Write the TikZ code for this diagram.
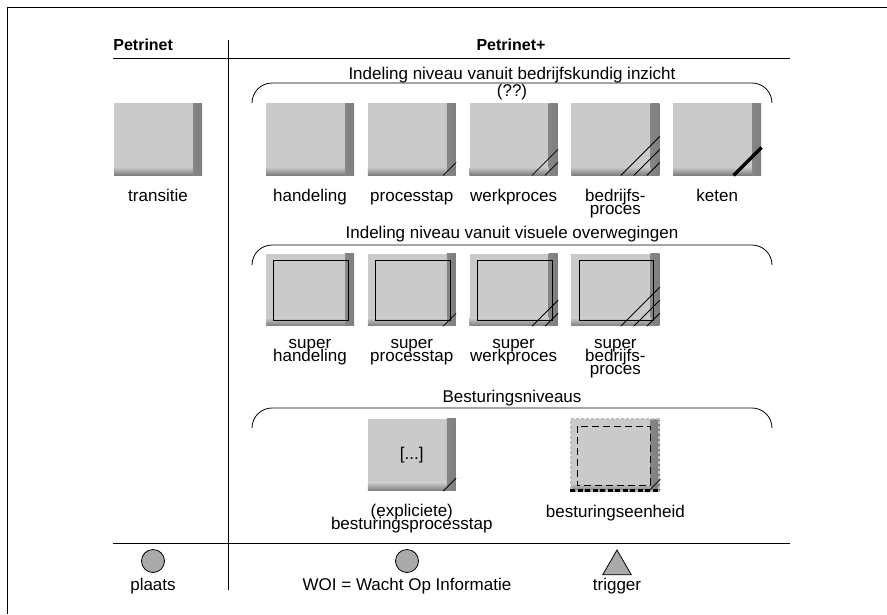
\documentclass[tikz,border=0pt]{standalone}
\usepackage{fontspec}
\setmainfont{Liberation Sans}
\usepackage{tikz}
\usepackage{xcolor}
\usetikzlibrary{positioning,shapes.geometric}
\definecolor{tfill}{HTML}{CACACA}
\definecolor{tshade}{HTML}{7E7E7E}
\definecolor{pfill}{HTML}{AAAAAA}
\AtBeginDocument{\lineskiplimit=-20pt}

\begin{document}
\begin{tikzpicture}[x=1pt,y=-1pt,line width=0.8pt,
  font=\fontsize{17}{13}\selectfont,
  trans/.style={rectangle,minimum width=88pt,minimum height=72pt,inner sep=0pt,fill=tfill,
    path picture={
      \shade[left color=tfill,right color=tshade]
        ([xshift=-9pt]path picture bounding box.north east) rectangle (path picture bounding box.south east);
      \shade[top color=tfill,bottom color=tshade]
        ([yshift=8pt]path picture bounding box.south west) rectangle ([xshift=-9pt]path picture bounding box.south east);}},
  lbl/.style={anchor=base,align=center,inner sep=0pt},
  hdr/.style={anchor=base,inner sep=0pt,font=\fontsize{16}{13}\selectfont\bfseries},
  place/.style={circle,draw,fill=pfill,minimum size=23pt,inner sep=0pt},
  trig/.style={regular polygon,regular polygon sides=3,draw,fill=pfill,minimum size=33pt,inner sep=0pt},
  brace/.style={rounded corners=20pt}]
\useasboundingbox (0,0) rectangle (887,614);

% frame and table rules
\draw (7,614) -- (7,7) -- (887,7);
\draw (113,58) -- (790,58);
\draw (113,543) -- (790,543);
\draw (228,40) -- (228,590);
\node[hdr,anchor=base west] (hpn) at (113,50) {Petrinet};
\node[hdr] (hpnplus) at (511,50) {Petrinet+};

% Petrinet column
\node[trans] (transitie) at (158,139) {};
\node[lbl] (ltransitie) at ([yshift=-26pt]transitie.south) {transitie};

% bedrijfskundig
\node[lbl] (tbedr) at (512,79) {Indeling niveau vanuit bedrijfskundig inzicht};
\node[lbl] (tvraag) at (512,96) {(??)};
\draw[brace] (252,103) -- (252,83) -- (772,83) -- (772,103);
\node[trans] (handeling) at (310,139) {};
\node[trans,right=13pt of handeling] (processtap) {};
\node[trans,right=13pt of processtap] (werkproces) {};
\node[trans,right=13pt of werkproces] (bedrijfsproces) {};
\node[trans,right=13pt of bedrijfsproces] (keten) {};
\node[lbl] at ([yshift=-26pt]handeling.south) {handeling};
\node[lbl] at ([yshift=-26pt]processtap.south) {processtap};
\node[lbl] at ([yshift=-26pt]werkproces.south) {werkproces};
\node[lbl] at ([yshift=-39pt]bedrijfsproces.south) {bedrijfs-\\proces};
\node[lbl] at ([yshift=-26pt]keten.south) {keten};
\draw ([xshift=-13pt]processtap.south east) -- ([yshift=13pt]processtap.south east);
\draw ([xshift=-13pt]werkproces.south east) -- ([yshift=13pt]werkproces.south east)
      ([xshift=-26pt]werkproces.south east) -- ([yshift=26pt]werkproces.south east);
\draw ([xshift=-13pt]bedrijfsproces.south east) -- ([yshift=13pt]bedrijfsproces.south east)
      ([xshift=-26pt]bedrijfsproces.south east) -- ([yshift=26pt]bedrijfsproces.south east)
      ([xshift=-39pt]bedrijfsproces.south east) -- ([yshift=39pt]bedrijfsproces.south east);
\draw[line width=3.5pt] ([xshift=-28pt]keten.south east) -- ([yshift=28pt]keten.south east);

% visuele overwegingen
\node[lbl] (tvis) at (512,238) {Indeling niveau vanuit visuele overwegingen};
\draw[brace] (252,265) -- (252,245) -- (772,245) -- (772,265);
\node[trans,below=78pt of handeling] (shand) {};
\node[trans,right=13pt of shand] (sstap) {};
\node[trans,right=13pt of sstap] (swerk) {};
\node[trans,right=13pt of swerk] (sbedr) {};
\node[lbl] at ([yshift=-35pt]shand.south) {super\\handeling};
\node[lbl] at ([yshift=-35pt]sstap.south) {super\\processtap};
\node[lbl] at ([yshift=-35pt]swerk.south) {super\\werkproces};
\node[lbl] at ([yshift=-48pt]sbedr.south) {super\\bedrijfs-\\proces};
\draw ([shift={(8pt,-7pt)}]shand.north west) rectangle ([shift={(-6pt,6pt)}]shand.south east);
\draw ([shift={(8pt,-7pt)}]sstap.north west) rectangle ([shift={(-6pt,6pt)}]sstap.south east);
\draw ([shift={(8pt,-7pt)}]swerk.north west) rectangle ([shift={(-6pt,6pt)}]swerk.south east);
\draw ([shift={(8pt,-7pt)}]sbedr.north west) rectangle ([shift={(-6pt,6pt)}]sbedr.south east);
\draw ([xshift=-13pt]sstap.south east) -- ([yshift=13pt]sstap.south east);
\draw ([xshift=-13pt]swerk.south east) -- ([yshift=13pt]swerk.south east)
      ([xshift=-26pt]swerk.south east) -- ([yshift=26pt]swerk.south east);
\draw ([xshift=-13pt]sbedr.south east) -- ([yshift=13pt]sbedr.south east)
      ([xshift=-26pt]sbedr.south east) -- ([yshift=26pt]sbedr.south east)
      ([xshift=-39pt]sbedr.south east) -- ([yshift=39pt]sbedr.south east);

% besturing
\node[lbl] (tbest) at (512,402) {Besturingsniveaus};
\draw[brace] (252,428) -- (252,408) -- (772,408) -- (772,428);
\node[trans,below=92pt of sstap] (bstap) {[...]};
\node[trans,below=92pt of sbedr,draw=tshade!50,dash pattern=on 3pt off 2pt,line width=2pt] (beenh) {};
\node[lbl] at ([yshift=-38pt]bstap.south) {(expliciete)\\besturingsprocesstap};
\node[lbl] at ([yshift=-25pt]beenh.south) {besturingseenheid};
\draw[dash pattern=on 7pt off 4pt] ([shift={(7pt,-8pt)}]beenh.north west) rectangle ([shift={(-10pt,7pt)}]beenh.south east);
\draw[line width=3pt,dash pattern=on 5pt off 2.5pt] ([yshift=1.5pt]beenh.south west) -- ([yshift=1.5pt]beenh.south east);
\draw ([xshift=-13pt]bstap.south east) -- ([yshift=13pt]bstap.south east);
\draw ([xshift=-13pt]beenh.south east) -- ([yshift=13pt]beenh.south east);

% plaatsen en trigger
\node[place] (plaats) at (153,561) {};
\node[lbl] at (153,590) {plaats};
\node[place] (woi) at (407,561) {};
\node[lbl] at (407,590) {WOI = Wacht Op Informatie};
\node[trig] (trigger) at (617,566.5) {};
\node[lbl] at (617,590) {trigger};
\end{tikzpicture}
\end{document}
